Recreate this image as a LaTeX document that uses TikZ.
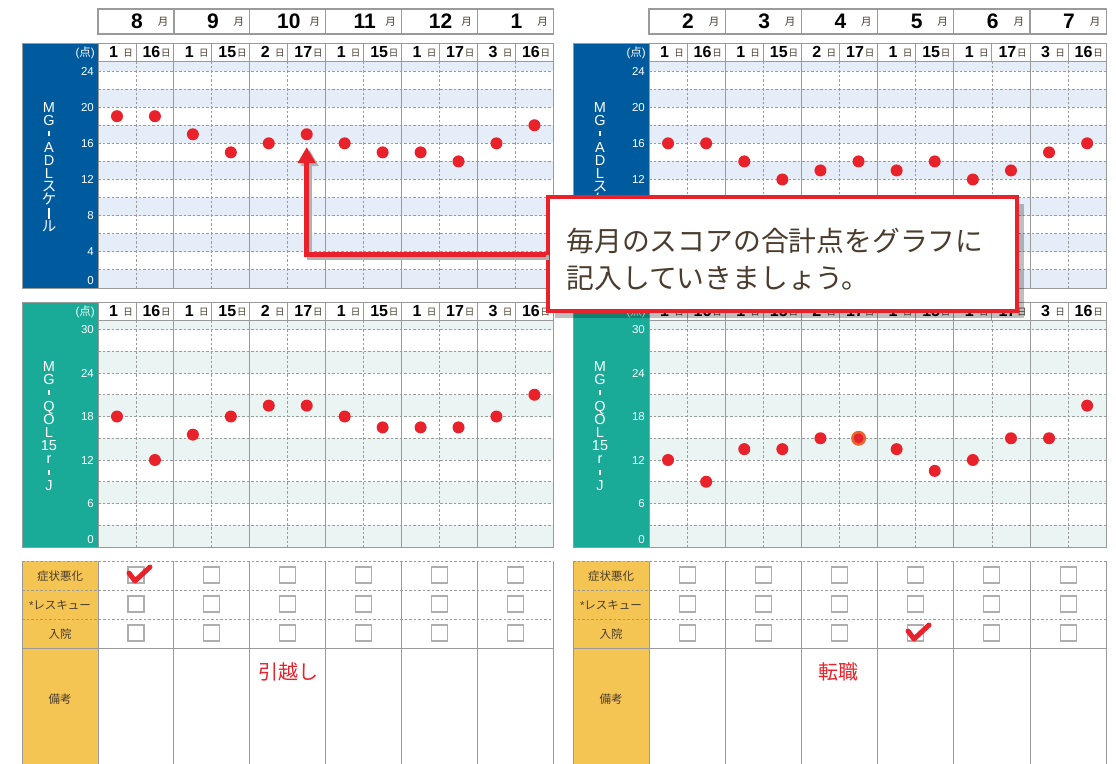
\documentclass[tikz,border=0pt]{standalone}
\usepackage{fontspec}
\setmainfont{Liberation Sans}
\newfontfamily\jp{Noto Sans CJK JP}
\usetikzlibrary{positioning, arrows.meta, shadows}

\definecolor{adlblue}{HTML}{005A9E}
\definecolor{adlband}{HTML}{E4EDF8}
\definecolor{qolteal}{HTML}{19AB97}
\definecolor{qolband}{HTML}{EAF5F3}
\definecolor{gridgray}{HTML}{9A9A9A}
\definecolor{tableyellow}{HTML}{F4C552}
\definecolor{dotred}{HTML}{E8212B}
\definecolor{hiorange}{HTML}{E8672E}
\definecolor{txtbrown}{HTML}{4A3B2C}

\newcommand\tbar[2]{\rule[#1pt]{1.2pt}{#2pt}}

\tikzset{
  gridline/.style={draw=gridgray, line width=0.9pt},
  dashline/.style={draw=gridgray, line width=0.8pt, dash pattern=on 2.5pt off 2pt},
  monthbox/.style={draw=gridgray, line width=1.2pt, fill=white},
  daybox/.style={draw=gridgray, line width=0.9pt, fill=white},
  monthnum/.style={font=\bfseries\fontsize{21}{21}\selectfont, inner sep=0pt},
  monthunit/.style={font=\jp\fontsize{10.5}{10.5}\selectfont, text=txtbrown, inner sep=0pt},
  daynum/.style={font=\bfseries\fontsize{16}{16}\selectfont, inner sep=0pt},
  dayunit/.style={font=\jp\fontsize{9.5}{9.5}\selectfont, text=txtbrown, inner sep=0pt},
  axislabel/.style={font=\fontsize{11.5}{11.5}\selectfont, text=white, anchor=east, inner sep=0pt},
  vtitle/.style={font=\fontsize{14.5}{13.2}\selectfont, text=white, align=center, inner sep=0pt},
  rowlabel/.style={font=\jp\fontsize{11.5}{11.5}\selectfont, text=txtbrown, inner sep=0pt},
  cbox/.style={draw=gridgray!80, line width=1.1pt, fill=white},
  scoredot/.style={fill=dotred},
  checkmark/.style={draw=dotred, line width=5pt, line cap=round, line join=round},
  memo/.style={font=\jp\fontsize{20}{20}\selectfont, text=dotred, inner sep=0pt},
  noteframe/.style={draw=dotred, line width=3.5pt, fill=white, minimum width=469pt,
    minimum height=114pt,
    drop shadow={shadow xshift=7pt, shadow yshift=-7pt, fill=black, opacity=0.25}},
  notetext/.style={align=left, inner sep=0pt, anchor=west,
    font=\jp\fontsize{27.8}{37}\selectfont, text=txtbrown},
  pointer/.style={draw=dotred, line width=5pt, -{Triangle[width=17pt, length=16pt]}},
}

\begin{document}
\begin{tikzpicture}[x=1pt, y=-1pt]
\useasboundingbox (0,0) rectangle (1116,763);
\clip (0,0) rectangle (1116,763);

\foreach \sd/\gx/\mw/\mlist/\adl/\qol in {l/98/75.9/{8,9,10,11,12,1}/{19,19,17,15,16,17,16,15,15,14,16,18}/{18,12,15.5,18,19.5,19.5,18,16.5,16.5,16.5,18,21},%
  r/649/76.2/{2,3,4,5,6,7}/{16,16,14,12,13,14,13,14,12,13,15,16}/{12,9,13.5,13.5,15,15,13.5,10.5,12,15,15,19.5}} {

  % month header
  \foreach \m [count=\i from 0] in \mlist {
    \draw[monthbox] ({\gx+\i*\mw},9) rectangle ({\gx+(\i+1)*\mw},34);
    \node[monthnum] (mon-\sd-\i) at ({\gx+\i*\mw+39},21) {\m};
    \node[monthunit] (monu-\sd-\i) at ({\gx+\i*\mw+65},22) {月};
  }

  % ADL chart
  \fill[adlblue] ({\gx-76},43) rectangle (\gx,288);
  \fill[adlband] (\gx,61) rectangle ({\gx+6*\mw},71);
  \foreach \k in {1,3,...,11}
    \fill[adlband] (\gx,{71+\k*18.08}) rectangle ({\gx+6*\mw},{71+(\k+1)*18.08});
  \foreach \k in {0,...,11}
    \draw[dashline] (\gx,{71+\k*18.08}) -- ({\gx+6*\mw},{71+\k*18.08});
  \foreach \i in {0,...,5} {
    \draw[dashline] ({\gx+(\i+0.5)*\mw},61) -- ({\gx+(\i+0.5)*\mw},288);
    \draw[gridline] ({\gx+\i*\mw},61) -- ({\gx+\i*\mw},288);
  }
  \node[axislabel] (adl-\sd-unit) at ({\gx-3},53) {({\jp 点})};
  \foreach \v [count=\j from 0] in {24,20,...,4}
    \node[axislabel] (adl-\sd-y\v) at ({\gx-4},{71+\j*36.16}) {\v};
  \node[axislabel] (adl-\sd-y0) at ({\gx-4},281) {0};
  \node[vtitle] (adl-\sd-title) at ({\gx-49},167)
    {M\\G\\\tbar{2.5}{5}\\A\\D\\L\\{\jp ス}\\{\jp ケ}\\\tbar{-0.5}{11}\\{\jp ル}};
  \foreach \v [count=\c from 0] in \adl
    \fill[scoredot] ({\gx+(\c+0.5)*\mw/2},{71+(24-\v)*9.04}) circle[radius=6pt];

  % QOL chart
  \fill[qolteal] ({\gx-76},302) rectangle (\gx,547);
  \fill[qolband] (\gx,320) rectangle ({\gx+6*\mw},329.5);
  \foreach \k in {1,3,...,9}
    \fill[qolband] (\gx,{329.5+\k*21.75}) rectangle ({\gx+6*\mw},{329.5+(\k+1)*21.75});
  \foreach \k in {0,...,9}
    \draw[dashline] (\gx,{329.5+\k*21.75}) -- ({\gx+6*\mw},{329.5+\k*21.75});
  \foreach \i in {0,...,5} {
    \draw[dashline] ({\gx+(\i+0.5)*\mw},320) -- ({\gx+(\i+0.5)*\mw},547);
    \draw[gridline] ({\gx+\i*\mw},320) -- ({\gx+\i*\mw},547);
  }
  \node[axislabel] (qol-\sd-unit) at ({\gx-3},312) {({\jp 点})};
  \foreach \v [count=\j from 0] in {30,24,...,6}
    \node[axislabel] (qol-\sd-y\v) at ({\gx-4},{329.5+\j*43.5}) {\v};
  \node[axislabel] (qol-\sd-y0) at ({\gx-4},540) {0};
  \node[vtitle] (qol-\sd-title) at ({\gx-49},426)
    {M\\G\\\tbar{2.5}{5}\\Q\\O\\L\\15\\r\\\tbar{2.5}{5}\\J};
  \foreach \v [count=\c from 0] in \qol
    \fill[scoredot] ({\gx+(\c+0.5)*\mw/2},{329.5+(30-\v)*7.25}) circle[radius=6pt];

  % day headers and frames
  \foreach \ch/\ty/\hy/\by in {adl/43/61/288, qol/302/320/547} {
    \foreach \d [count=\c from 0] in {1,16,1,15,2,17,1,15,1,17,3,16} {
      \draw[daybox] ({\gx+\c*\mw/2},\ty) rectangle ({\gx+(\c+1)*\mw/2},\hy);
      \node[daynum] (\ch-\sd-day\c) at ({\gx+\c*\mw/2+15.5},{(\ty+\hy)/2}) {\d};
      \node[dayunit] (\ch-\sd-ju\c) at ({\gx+\c*\mw/2+30},{(\ty+\hy)/2+1}) {日};
    }
    \draw[gridline] ({\gx-76},\ty) rectangle ({\gx+6*\mw},\by);
  }

  % check table
  \fill[tableyellow] ({\gx-76},561) rectangle (\gx,770);
  \foreach \ry in {561,590,619}
    \draw[dashline] ({\gx-76},\ry) -- ({\gx+6*\mw},\ry);
  \draw[gridline] ({\gx-76},648) -- ({\gx+6*\mw},648);
  \draw[gridline] ({\gx-76},561) -- ({\gx-76},770);
  \foreach \i in {0,...,6}
    \draw[gridline] ({\gx+\i*\mw},561) -- ({\gx+\i*\mw},770);
  \node[rowlabel] (row-\sd-a) at ({\gx-38},576) {症状悪化};
  \node[rowlabel] (row-\sd-b) at ({\gx-38},605) {{\rmfamily *}レスキュー};
  \node[rowlabel] (row-\sd-c) at ({\gx-38},634) {入院};
  \node[rowlabel] (row-\sd-d) at ({\gx-38},699) {備考};
  \foreach \i in {0,...,5}
    \foreach \ry in {575,604,633}
      \draw[cbox] ({\gx+(\i+0.5)*\mw-8},{\ry-8}) rectangle ++(16,16);
}

% highlighted point
\fill[hiorange] (858.6,438.3) circle[radius=7.5pt];
\fill[scoredot] (858.6,438.3) circle[radius=5pt];

% notes and ticks
\node[memo] (memo-l) at (288,672) {引越し};
\node[memo] (memo-r) at (838,672) {転職};
\draw[checkmark] (129,573) -- (135,581) -- (150,567);
\draw[checkmark] (908,631) -- (914,639) -- (929,625);

% callout
\node[noteframe] (note) at (782.5,254) {};
\node[notetext] (note-text) at ([xshift=20pt, yshift=-5pt]note.west)
  {毎月のスコアの合計点をグラフに\\記入していきましょう。};
\coordinate (target) at (306.7,147);
\draw[pointer, draw=black!30, transform canvas={xshift=3pt, yshift=-3pt}] (note.west) -| (target);
\draw[pointer] (note.west) -| (target);
\end{tikzpicture}
\end{document}
